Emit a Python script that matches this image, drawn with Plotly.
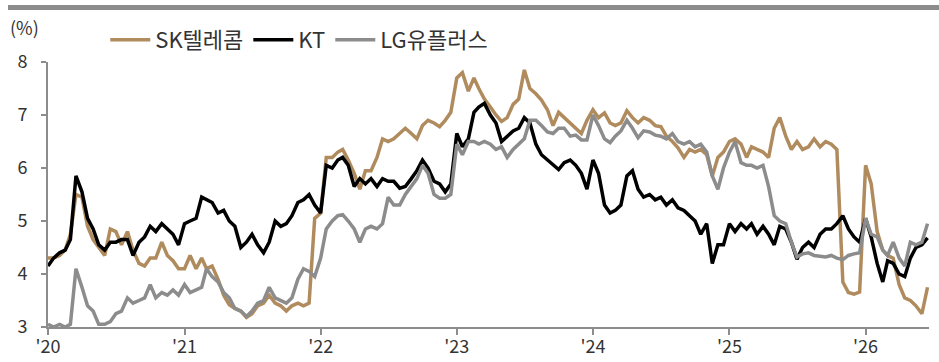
import plotly.graph_objects as go

# semi-monthly observation dates (1st and 16th of each month), Jan 2020 - Jun 2026
dates = [f"{2020 + m // 12}-{m % 12 + 1:02d}-{d:02d}" for m in range(78) for d in (1, 16)]

sk_telecom = [
    4.3, 4.3, 4.35, 4.45, 4.75, 5.5, 5.45, 4.9, 4.65, 4.5, 4.35, 4.85, 4.8, 4.55, 4.8, 4.45, 4.2, 4.15, 4.3, 4.3, 4.6, 4.35, 4.25, 4.1,
    4.1, 4.35, 4.1, 4.3, 4.1, 4.15, 3.9, 3.6, 3.42, 3.35, 3.3, 3.18, 3.25, 3.4, 3.45, 3.6, 3.45, 3.4, 3.3, 3.4, 3.45, 3.4, 3.45, 5.05,
    5.15, 6.2, 6.2, 6.3, 6.35, 6.15, 5.9, 5.6, 5.95, 5.95, 6.2, 6.55, 6.5, 6.55, 6.65, 6.75, 6.65, 6.55, 6.8, 6.9, 6.85, 6.78, 6.9, 7.05,
    7.7, 7.8, 7.45, 7.7, 7.5, 7.3, 7.15, 7.0, 6.88, 6.95, 7.2, 7.3, 7.85, 7.5, 7.4, 7.28, 7.1, 6.8, 7.05, 6.95, 6.85, 6.75, 6.65, 6.9,
    7.1, 6.95, 7.04, 6.85, 6.8, 6.85, 7.08, 6.95, 6.85, 6.95, 6.9, 6.8, 6.78, 6.6, 6.5, 6.38, 6.2, 6.35, 6.3, 6.35, 6.25, 5.85, 6.2, 6.3,
    6.5, 6.55, 6.45, 6.2, 6.4, 6.35, 6.3, 6.2, 6.75, 6.95, 6.6, 6.35, 6.5, 6.35, 6.4, 6.55, 6.4, 6.5, 6.45, 6.35, 3.85, 3.65, 3.62, 3.66,
    6.05, 5.7, 4.8, 4.45, 4.35, 4.3, 3.8, 3.55, 3.5, 3.4, 3.25, 3.75,
]

kt = [
    4.15, 4.3, 4.4, 4.45, 4.65, 5.85, 5.55, 5.05, 4.85, 4.55, 4.45, 4.6, 4.6, 4.65, 4.65, 4.35, 4.6, 4.7, 4.9, 4.8, 4.95, 4.85, 4.75, 4.55,
    4.95, 5.0, 5.05, 5.45, 5.4, 5.35, 5.15, 5.2, 5.0, 4.9, 4.5, 4.6, 4.75, 4.55, 4.4, 4.6, 5.0, 4.9, 4.95, 5.1, 5.35, 5.4, 5.5, 5.3,
    5.15, 6.05, 6.0, 6.15, 6.2, 6.05, 5.65, 5.8, 5.7, 5.8, 5.65, 5.8, 5.75, 5.75, 5.62, 5.65, 5.8, 5.95, 6.15, 6.0, 5.75, 5.7, 5.55, 5.7,
    6.65, 6.4, 6.55, 7.05, 7.15, 7.22, 7.0, 6.85, 6.5, 6.6, 6.7, 6.75, 6.95, 6.85, 6.45, 6.25, 6.15, 6.05, 5.97, 6.1, 6.15, 6.05, 5.9, 5.6,
    6.15, 5.9, 5.3, 5.15, 5.2, 5.3, 5.85, 5.95, 5.6, 5.45, 5.5, 5.4, 5.45, 5.3, 5.4, 5.25, 5.2, 5.1, 5.0, 4.75, 4.95, 4.2, 4.55, 4.55,
    4.95, 4.8, 4.95, 4.85, 4.95, 4.75, 4.9, 4.75, 4.55, 4.9, 4.85, 4.6, 4.28, 4.5, 4.6, 4.5, 4.75, 4.85, 4.85, 4.95, 5.1, 4.85, 4.7, 4.6,
    5.05, 4.7, 4.2, 3.85, 4.25, 4.2, 4.0, 3.95, 4.3, 4.5, 4.55, 4.68,
]

lg_uplus = [
    3.05, 3.0, 3.05, 3.0, 3.05, 4.1, 3.75, 3.4, 3.3, 3.05, 3.05, 3.1, 3.25, 3.3, 3.55, 3.45, 3.5, 3.55, 3.8, 3.55, 3.65, 3.6, 3.7, 3.6,
    3.8, 3.65, 3.7, 3.75, 4.1, 3.95, 3.85, 3.65, 3.55, 3.35, 3.3, 3.2, 3.3, 3.45, 3.5, 3.75, 3.55, 3.5, 3.45, 3.55, 3.9, 4.1, 4.05, 3.95,
    4.3, 4.85, 5.0, 5.1, 5.12, 5.0, 4.85, 4.6, 4.85, 4.9, 4.85, 4.95, 5.45, 5.3, 5.3, 5.5, 5.65, 5.8, 6.05, 5.9, 5.5, 5.43, 5.43, 5.5,
    6.45, 6.25, 6.5, 6.5, 6.45, 6.5, 6.45, 6.35, 6.4, 6.2, 6.35, 6.45, 6.55, 6.9, 6.9, 6.8, 6.68, 6.65, 6.75, 6.75, 6.6, 6.62, 6.53, 6.53,
    7.0, 6.8, 6.55, 6.48, 6.6, 6.7, 6.9, 6.75, 6.57, 6.7, 6.68, 6.62, 6.6, 6.55, 6.65, 6.5, 6.45, 6.5, 6.4, 6.45, 6.3, 5.85, 5.6, 6.0,
    6.3, 6.5, 6.1, 6.05, 6.05, 6.0, 6.05, 5.65, 5.1, 5.0, 4.95, 4.6, 4.32, 4.38, 4.4, 4.35, 4.33, 4.32, 4.35, 4.3, 4.27, 4.35, 4.38, 4.4,
    5.05, 4.75, 4.7, 4.45, 4.35, 4.6, 4.3, 4.15, 4.6, 4.55, 4.6, 4.95,
]

series_names = ["SK텔레콤", "KT", "LG유플러스"]
series_colors = ["#B08B5E", "#000000", "#8C8C8C"]

year_ticks = ["2020-01-01", "2021-01-01", "2022-01-01", "2023-01-01", "2024-01-01", "2025-01-01", "2026-01-01"]
year_labels = ["'20", "'21", "'22", "'23", "'24", "'25", "'26"]
y_ticks = [3, 4, 5, 6, 7, 8]

FONT = "Noto Sans CJK KR"
AXIS = "#8C8C8C"
TXT = "#333333"

fig = go.Figure()
for name, vals, col in zip(series_names, [sk_telecom, kt, lg_uplus], series_colors):
    fig.add_trace(go.Scatter(x=dates, y=vals, name=name, mode="lines",
                             line=dict(color=col, width=3.5)))

fig.update_layout(
    width=939, height=362,
    margin=dict(l=48, r=10, t=62, b=35, autoexpand=False),
    paper_bgcolor="white", plot_bgcolor="white",
    font=dict(family=FONT, color=TXT, size=18),
    showlegend=True,
    legend=dict(orientation="h", x=0.065, xanchor="left", y=1.083, yanchor="middle",
                font=dict(size=22, color=TXT), bgcolor="rgba(0,0,0,0)",
                itemwidth=40, tracegroupgap=0),
    xaxis=dict(type="date", range=["2020-01-01", "2026-06-20"],
               tickvals=year_ticks, ticktext=year_labels,
               showline=True, linecolor=AXIS, linewidth=2,
               ticks="outside", ticklen=6, tickwidth=1.5, tickcolor=AXIS,
               ticklabelstandoff=-4, automargin=False,
               showgrid=False, zeroline=False, tickfont=dict(size=18, color=TXT)),
    yaxis=dict(range=[3, 8], tickvals=y_ticks,
               showline=True, linecolor=AXIS, linewidth=2,
               ticks="outside", ticklen=5, tickwidth=1.5, tickcolor=AXIS,
               ticklabelstandoff=10, automargin=False,
               showgrid=False, zeroline=False, tickfont=dict(size=18, color=TXT)),
    shapes=[dict(type="line", xref="paper", yref="paper",
                 x0=-40 / 881, x1=891 / 881, y0=1 + 54.5 / 265, y1=1 + 54.5 / 265,
                 line=dict(color=AXIS, width=5))],
    annotations=[dict(text="(%)", xref="paper", yref="paper", x=-40 / 881, y=1 + 35 / 265,
                      xanchor="left", yanchor="middle", showarrow=False,
                      font=dict(size=18, color=TXT))],
)

fig.write_html("out.html")
